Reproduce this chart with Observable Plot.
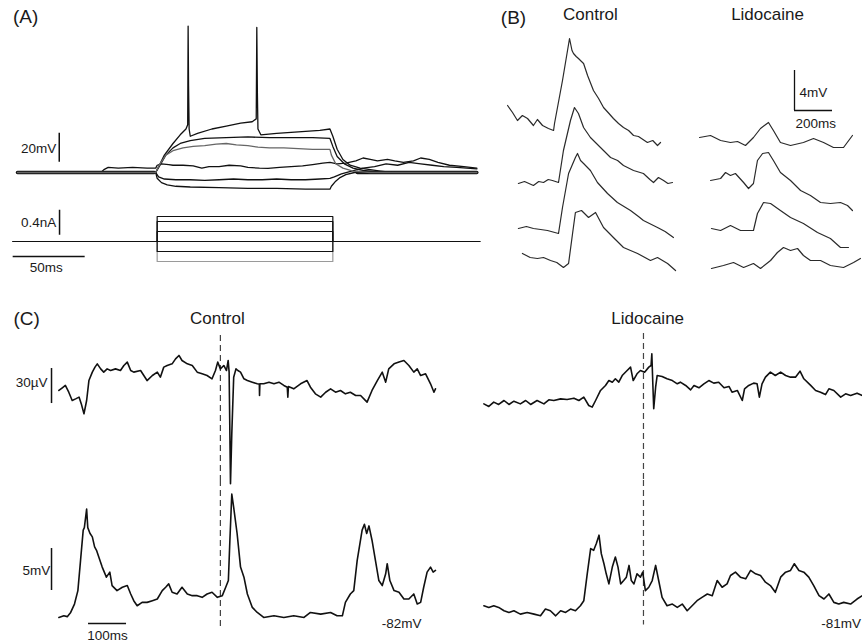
<!DOCTYPE html>
<html>
<head>
<meta charset="utf-8">
<script src="https://cdn.jsdelivr.net/npm/d3@7"></script>
<script src="https://cdn.jsdelivr.net/npm/@observablehq/plot@0.6"></script>
<style>
  html, body { margin: 0; padding: 0; background: #fff; }
  #fig { position: relative; width: 862px; height: 644px; overflow: hidden; background: #fff; }
</style>
</head>
<body>
<div id="fig"></div>
<script>
// ---------------- DATA ----------------
// Panel A: membrane potential sweeps (t in ms, v in mV relative to rest)
const A_sweep1 = [[0,0],[96,0],[98,4],[102,12],[108,20],[113,26],[117,30],[118.2,33],[118.5,101],[118.8,60],[119.2,30],[120,25],[125,27],[135,30],[145,32],[155,34],[163,35],[165.8,37],[166.2,100],[166.6,55],[167,30],[169,26],[180,27],[195,28],[210,29],[217,30],[219,25],[222,16],[226,9],[231,5],[238,3],[245,2],[252,1],[260,0],[319,0]];
const A_sweep2 = [[0,0],[96,0],[99,5],[103,12],[108,17],[113,20],[120,22],[130,23.5],[145,24],[160,24.5],[175,24],[190,24],[205,24],[217,23.5],[219,18],[222,11],[227,6],[233,3],[240,1.5],[250,0.5],[262,0],[319,0]];
const A_sweep3 = [[0,0],[96,0],[99,6],[103,12],[108,15],[115,17],[122,18],[130,18.5],[138,19.5],[145,20],[152,19],[160,18.5],[167,17.5],[175,17],[185,17],[195,16.5],[205,16],[217,16],[218,12],[221,6],[226,3],[233,1],[245,0],[319,0]];
const A_sweep4 = [[0,0],[58,0],[60,2],[63,3.5],[70,3],[80,3.5],[90,3],[96,3],[97,5],[100,6],[105,5.5],[108,5],[115,5],[122,4.5],[128,3],[133,4],[140,4],[147,5],[155,4.5],[160,3.5],[168,3],[174,2.8],[182,3.5],[190,4],[198,4.5],[205,5.5],[212,6.5],[217,7],[222,6],[228,6.5],[235,8],[240,10],[245,9],[250,8],[257,9],[262,8],[268,7],[275,8],[280,10],[286,9],[292,7],[300,5],[310,4],[319,3]];
const A_sweep5 = [[0,0],[96,0],[98,-3],[102,-4.5],[110,-5],[120,-5],[130,-5.5],[140,-5],[150,-4.5],[160,-5],[170,-5],[180,-4.5],[190,-5],[200,-5],[210,-4.5],[217,-4],[220,-3],[225,-1],[232,1],[240,3],[248,4],[256,6],[264,5],[272,7],[280,6],[288,5],[296,4],[305,3.5],[312,3],[319,2.5]];
const A_sweep6 = [[0,0],[96,0],[97,-4],[100,-7],[104,-8.5],[110,-9.5],[120,-10],[140,-10.5],[160,-11],[180,-11],[200,-11.5],[217,-11.5],[218,-9.5],[221,-6],[224,-3.5],[228,-1.5],[234,0],[319,0]];
const A_restBand = [[0,0],[95,0],[236,0],[319,0]];
// Panel A: injected current steps (nA)
const A_currentLevels = [0.4, 0.32, 0.16, 0, -0.16, -0.32];
const A_stepOn = 97, A_stepOff = 219, A_tStart = -3, A_tEnd = 321;

// Panel B: EPSPs (t in ms, mV relative to each sweep's baseline)
const B_control1 = [[11,2.5],[37,1.8],[63,1.0],[89,1.5],[116,1.2],[147,0.5],[168,1.1],[195,0.5],[226,0.2],[253,0],[258,0.7],[300,5.0],[337,9.2],[350,8.0],[358,7.7],[372,7.4],[384,7.2],[400,6.9],[411,6.7],[432,5.5],[463,4.0],[490,3.2],[516,2.3],[540,1.8],[568,1.2],[595,0.7],[621,0.3],[648,0],[674,-0.5],[700,-0.6],[747,-1.2],[775,-1.0],[800,-1.5],[816,-1.2]];
const B_control2 = [[68,-0.1],[100,0.1],[147,-0.3],[175,0.1],[200,0],[225,0.3],[247,0.2],[279,0],[305,3.2],[342,6.2],[363,7.5],[384,6.9],[411,5.5],[447,4.5],[500,3.5],[553,2.5],[590,2.2],[621,1.7],[674,1.2],[726,0.9],[760,0.3],[779,0],[805,0.5],[832,0.2],[855,-0.1],[879,0]];
const B_control3 = [[68,0],[110,0.2],[147,0],[185,-0.1],[221,-0.2],[279,-0.5],[300,2.1],[332,5.5],[368,7.1],[379,7.5],[395,6.8],[411,6.5],[447,5.8],[484,4.6],[537,3.5],[589,2.6],[658,1.8],[700,1.2],[726,0.8],[800,0.1],[840,-0.3],[884,-0.9]];
const B_control4 = [[89,0.9],[130,0.5],[168,0.4],[200,0.5],[237,0.2],[270,0],[305,-0.5],[332,-0.1],[353,2.9],[368,5.0],[400,5.2],[416,4.9],[437,4.5],[474,5.0],[516,3.5],[568,2.5],[621,1.5],[695,0.9],[763,0.2],[800,0.5],[853,-0.1],[895,-0.8]];
const B_lido1 = [[0,0.3],[58,0.5],[111,0],[163,-0.2],[200,-0.1],[242,-0.5],[284,0.3],[321,1.2],[363,1.8],[389,1.0],[426,-0.2],[479,-0.5],[547,-0.2],[600,0.2],[653,-0.2],[705,-0.7],[758,-0.7],[805,0.5]];
const B_lido2 = [[58,0.5],[111,0.7],[137,1.3],[163,1.0],[189,1.2],[232,0.3],[258,-0.3],[284,0.2],[305,2.5],[332,3.2],[363,3.3],[389,2.5],[426,1.3],[479,0.5],[532,-0.5],[584,-1.0],[637,-1.7],[689,-1.8],[742,-1.7],[779,-2.0],[805,-2.5]];
const B_lido3 = [[63,0.2],[111,0],[163,0.5],[216,0],[284,0],[305,1.7],[337,2.8],[374,2.7],[426,2.0],[479,1.3],[547,0.7],[621,-0.2],[689,-0.8],[742,-1.7],[784,-1.7]];
const B_lido4 = [[63,-0.3],[126,0],[179,0.3],[232,-0.2],[284,0.2],[321,-0.3],[374,0.5],[410,1.3],[442,1.8],[479,1.5],[516,1.7],[547,1.0],[584,0.5],[637,0.5],[689,0],[758,-0.2],[811,0.3],[847,0.7]];

// Panel C: field potential (µV) and membrane potential (mV), t in ms
const C_controlField = [[1,8.6],[10,10.9],[18,12.9],[27,7.1],[36,0],[45,1.4],[54,2.9],[60,-2.9],[67,-11.4],[74,0],[80,17.1],[89,24.3],[96,28.6],[102,31.4],[111,27.1],[119,24.3],[128,27.1],[137,25.7],[150,27.1],[163,25.7],[172,30],[181,32.9],[190,25.7],[198,24.3],[216,25.7],[233,17.1],[247,21.4],[260,24.3],[268,20],[277,28.6],[286,30],[299,31.4],[308,35.7],[317,38.6],[325,34.3],[339,31.4],[352,30],[365,24.3],[378,22.9],[391,21.4],[404,18.6],[413,25.7],[419,32.9],[426,27.1],[435,30],[442,25.7],[446.5,34.3],[449,24.3],[452.6,-71.4],[456,-28.6],[461,20],[467,27.1],[472,25.7],[479,24.3],[488,18.6],[497,17.1],[510,15.7],[523,14.3],[528.5,14],[529,4.3],[530,14.3],[540,14.3],[554,15.7],[567,14.3],[580,15.7],[593,12.9],[602,11.4],[603.5,2.9],[605,12],[619,10],[637,14.3],[654,17.1],[663,11.4],[676,5.7],[690,2.9],[703,7.1],[716,10],[729,7.1],[742,8.6],[755,5.7],[768,7.1],[782,4.3],[795,4.3],[812,-1.4],[825,8.6],[839,17.1],[852,24.3],[861,15.7],[869,27.1],[883,31.4],[896,32.9],[909,34.3],[922,30],[935,24.3],[944,27.1],[953,21.4],[966,22.9],[979,14.3],[988,7.1],[992,10]];
const C_controlVm = [[1,-82.0],[14,-81.8],[23,-81.9],[32,-81.4],[42,-80.4],[51,-78.8],[58,-75.2],[65,-71.6],[68,-71.3],[74,-69.1],[77,-71.3],[83,-72.0],[89,-72.4],[95,-73.6],[100,-74.0],[106,-74.8],[115,-76.0],[126,-77.2],[135,-76.6],[141,-78.2],[154,-78.8],[168,-78.4],[181,-78.2],[190,-79.2],[198,-80.0],[207,-80.6],[220,-80.2],[233,-80.2],[247,-80.0],[260,-79.8],[273,-78.8],[282,-78.4],[290,-78.0],[299,-79.0],[312,-79.2],[325,-78.4],[339,-79.2],[352,-79.4],[365,-79.4],[378,-79.6],[391,-79.2],[404,-79.0],[418,-79.6],[431,-79.4],[440,-78.4],[447,-77.6],[451,-72.8],[456,-67.3],[461,-68.9],[470,-72.0],[479,-76.0],[488,-77.2],[497,-79.2],[510,-80.8],[523,-81.4],[540,-82.0],[567,-81.8],[593,-82.0],[619,-81.8],[646,-82.0],[663,-81.4],[690,-81.6],[716,-81.4],[733,-81.8],[747,-81.8],[755,-80.2],[768,-79.2],[777,-78.8],[786,-75.2],[799,-71.6],[805,-70.9],[811,-72.0],[817,-71.1],[825,-72.8],[834,-75.2],[843,-77.6],[852,-78.2],[861,-76.8],[865,-75.6],[872,-77.6],[883,-78.8],[896,-79.0],[909,-79.8],[922,-79.8],[935,-79.2],[944,-80.4],[953,-80.2],[961,-78.4],[970,-76.6],[979,-76.0],[986,-76.6],[992,-76.4]];
const C_lidoField = [[1,-2.9],[14,-5.1],[27,-1.4],[40,-3.4],[54,0],[67,-3.4],[80,-0.6],[97,-2.9],[111,0],[124,-3.4],[141,0],[159,-2.9],[172,0.6],[185,0],[203,1.4],[220,0.9],[238,2],[251,0],[264,2.9],[277,-4.3],[286,-5.7],[295,0],[308,8.6],[321,12.9],[330,17.1],[339,15.7],[347,18.6],[356,15.7],[365,21.4],[378,25.7],[387,28.6],[394,17.1],[404,22.9],[413,25.7],[424,24.3],[435,28.6],[441,30],[443,40],[445.6,14.3],[448,-7.1],[453,11.4],[457,21.4],[470,20.6],[483,18.6],[497,17.1],[510,14.3],[518,15.7],[532,12.9],[545,9.1],[554,12.9],[567,10.9],[580,14.3],[593,17.1],[606,14.9],[619,15.7],[633,10.9],[646,12],[654,7.1],[668,8.6],[681,0],[687,10],[698,12.9],[711,14.9],[720,14.3],[726,2.9],[733,14.3],[742,20],[755,24.3],[768,21.4],[782,24.3],[795,21.4],[808,20],[821,20],[833,25.1],[843,18.6],[861,12.9],[874,8.6],[887,7.1],[900,5.1],[909,10],[922,8.6],[940,2.9],[953,5.7],[966,4.3],[983,6.3],[997,4.3]];
const C_lidoVm = [[1,-80.6],[14,-80.8],[27,-80.6],[40,-80.8],[54,-81.2],[67,-81.4],[80,-81.2],[97,-81.6],[115,-81.4],[133,-81.6],[150,-81.8],[163,-81.0],[176,-81.2],[190,-81.8],[203,-81.2],[216,-81.4],[229,-81.0],[242,-81.2],[255,-80.6],[264,-80.0],[273,-76.8],[282,-73.8],[290,-74.0],[297,-73.2],[304,-72.2],[310,-74.4],[317,-75.6],[323,-76.8],[330,-78.0],[339,-76.0],[347,-74.8],[354,-76.0],[361,-78.0],[369,-77.6],[376,-77.2],[383,-75.8],[389,-77.6],[396,-78.0],[404,-76.8],[413,-77.2],[419,-76.6],[426,-78.8],[435,-78.4],[444,-77.6],[453,-75.8],[461,-77.6],[470,-79.6],[483,-80.6],[497,-80.4],[510,-80.8],[523,-80.4],[536,-81.2],[549,-80.6],[562,-80.0],[575,-79.6],[589,-79.2],[602,-79.4],[615,-77.6],[628,-78.4],[641,-78.0],[650,-77.0],[663,-76.6],[676,-77.2],[690,-77.4],[703,-76.4],[716,-76.8],[729,-77.0],[742,-77.8],[755,-78.2],[768,-79.0],[782,-77.2],[795,-76.6],[808,-76.4],[818,-75.6],[830,-76.4],[843,-76.6],[856,-77.2],[869,-78.2],[883,-79.4],[896,-79.8],[909,-79.2],[922,-80.2],[935,-80.4],[948,-80.2],[966,-80.4],[983,-79.8],[997,-79.4]];
const C_stimControl = 426, C_stimLido = 421;
const C_restLabels = ["-82mV", "-81mV"];

// ---------------- LAYOUT / STYLE ----------------
const FONT = "'Liberation Sans', Arial, Helvetica, sans-serif";
const INK = "#111";
const root = document.getElementById("fig");

function rows(pairs, id, off = 0) { return pairs.map(([t, v]) => ({id, t, v: v + off})); }

function panel({left, top, width, height, x, y, marks}) {
  const svg = Plot.plot({
    width, height,
    marginTop: 0, marginRight: 0, marginBottom: 0, marginLeft: 0,
    x: {domain: x, axis: null},
    y: {domain: y, axis: null},
    style: {background: "none", overflow: "visible", fontFamily: FONT, color: INK},
    marks
  });
  svg.style.position = "absolute";
  svg.style.left = left + "px";
  svg.style.top = top + "px";
  root.appendChild(svg);
  return svg;
}
function label(x, y, text, size, anchor = "middle", extra = {}) {
  return Plot.text([{x, y, text}], {x: "x", y: "y", text: "text", fontSize: size, textAnchor: anchor, fill: "#1a1a1a", fontFamily: FONT, ...extra});
}
function trace(data, opts = {}) {
  return Plot.line(data, {x: "t", y: "v", z: "id", stroke: INK, strokeWidth: 1.1, strokeLinejoin: "round", curve: "linear", ...opts});
}

// ---------- Panel A: voltage ----------
const Atr = [
  ...rows(A_sweep6, "s6"), ...rows(A_sweep5, "s5"), ...rows(A_sweep4, "s4"),
  ...rows(A_sweep2, "s2"), ...rows(A_sweep1, "s1")
];
panel({
  left: 0, top: 0, width: 490, height: 205,
  x: [-11.8, 328.5], y: [-22.76, 118.62],
  marks: [
    Plot.line([rows(A_restBand.slice(0,2),"b1"), rows(A_restBand.slice(2),"b2")].flat(), {x:"t", y:"v", z:"id", stroke: INK, strokeWidth: 3.4}),
    trace(Atr, {strokeWidth: 1.3}),
    trace(rows(A_sweep3, "s3"), {stroke: "#666", strokeWidth: 1.3}),
    Plot.ruleX([29], {y1: 7, y2: 27, stroke: INK, strokeWidth: 1.5}),
    label(27, 16.6, "20mV", 13.5, "end"),
    label(5.6, 107, "(A)", 19)
  ]
});

// ---------- Panel A: current ----------
const Acur = A_currentLevels.flatMap((L, k) => [
  {id: k, t: A_tStart, v: 0}, {id: k, t: A_stepOn, v: 0}, {id: k, t: A_stepOn, v: L},
  {id: k, t: A_stepOff, v: L}, {id: k, t: A_stepOff, v: 0}, {id: k, t: A_tEnd, v: 0}
]);
panel({
  left: 0, top: 200, width: 490, height: 80,
  x: [-11.8, 328.5], y: [-0.624, 0.656],
  marks: [
    trace(Acur.filter(d => d.id === A_currentLevels.length - 1), {stroke: "#9a9a9a", strokeWidth: 1.2}),
    trace(Acur.filter(d => d.id !== A_currentLevels.length - 1), {strokeWidth: 1.2}),
    Plot.ruleX([29.2], {y1: 0.1, y2: 0.5, stroke: INK, strokeWidth: 1.5}),
    label(27, 0.30, "0.4nA", 13.5, "end"),
    Plot.ruleY([-0.24], {x1: -3, x2: 47, stroke: INK, strokeWidth: 1.5}),
    label(20, -0.42, "50ms", 13.5)
  ]
});

// ---------- Panel B: control ----------
const Boff = [15, 9.8, 5.2, 1.8];
const BoffL = [14, 9.5, 5, 1.5];
panel({
  left: 495, top: 0, width: 190, height: 280,
  x: [-52.6, 947.4], y: [0, 28],
  marks: [
    trace([...rows(B_control1,"c1",Boff[0]), ...rows(B_control2,"c2",Boff[1]), ...rows(B_control3,"c3",Boff[2]), ...rows(B_control4,"c4",Boff[3])], {stroke: "#2a2a2a", strokeWidth: 1.2}),
    label(42, 26.3, "(B)", 19),
    label(447, 26.6, "Control", 17)
  ]
});
// ---------- Panel B: lidocaine ----------
panel({
  left: 690, top: 0, width: 172, height: 280,
  x: [-47.4, 857.9], y: [0, 28],
  marks: [
    trace([...rows(B_lido1,"l1",BoffL[0]), ...rows(B_lido2,"l2",BoffL[1]), ...rows(B_lido3,"l3",BoffL[2]), ...rows(B_lido4,"l4",BoffL[3])], {stroke: "#2a2a2a", strokeWidth: 1.2}),
    Plot.ruleX([500], {y1: 17, y2: 21, stroke: INK, strokeWidth: 1.3}),
    Plot.ruleY([17], {x1: 500, x2: 700, stroke: INK, strokeWidth: 1.3}),
    label(526, 18.8, "4mV", 13.5, "start"),
    label(505, 15.7, "200ms", 13.5, "start"),
    label(358, 26.6, "Lidocaine", 17)
  ]
});

// ---------- Panel C ----------
const dash = {stroke: "#444", strokeWidth: 1.2, strokeDasharray: "6,4"};
// control, field potential
panel({
  left: 5, top: 300, width: 440, height: 200,
  x: [-139.5, 1018.4], y: [-85.7, 85.7],
  marks: [
    Plot.ruleX([C_stimControl], {y1: 55.7, y2: -68.6, ...dash}),
    trace(rows(C_controlField, "f"), {strokeWidth: 1.6}),
    Plot.ruleX([-18.4], {y1: -2.6, y2: 27.4, stroke: INK, strokeWidth: 1.5}),
    label(-29, 15.4, "30µV", 13.5, "end"),
    label(-84, 70.3, "(C)", 19),
    label(418, 70.3, "Control", 17)
  ]
});
// control, membrane potential
panel({
  left: 5, top: 480, width: 440, height: 160,
  x: [-139.5, 1018.4], y: [-84.74, -65.69],
  marks: [
    Plot.ruleX([C_stimControl], {y1: -65.69, y2: -83.3, ...dash}),
    trace(rows(C_controlVm, "m"), {strokeWidth: 1.6}),
    Plot.ruleX([-18.4], {y1: -78.79, y2: -73.79, stroke: INK, strokeWidth: 1.5}),
    label(-22, -76.4, "5mV", 13.5, "end"),
    Plot.ruleY([-82.71], {x1: 79, x2: 179, stroke: INK, strokeWidth: 1.5}),
    label(129, -84.14, "100ms", 13.5),
    label(903, -82.7, C_restLabels[0], 13.5)
  ]
});
// lidocaine, field potential
panel({
  left: 470, top: 300, width: 392, height: 200,
  x: [-34.2, 997.4], y: [-85.7, 85.7],
  marks: [
    Plot.ruleX([C_stimLido], {y1: 57.4, y2: -68.6, ...dash}),
    trace(rows(C_lidoField, "f"), {strokeWidth: 1.6}),
    label(432, 70.3, "Lidocaine", 17)
  ]
});
// lidocaine, membrane potential
panel({
  left: 470, top: 480, width: 392, height: 160,
  x: [-34.2, 997.4], y: [-84.74, -65.69],
  marks: [
    Plot.ruleX([C_stimLido], {y1: -65.69, y2: -82.9, ...dash}),
    trace(rows(C_lidoVm, "m"), {strokeWidth: 1.6}),
    label(889, -82.7, C_restLabels[1], 13.5, "start")
  ]
});
</script>
</body>
</html>
